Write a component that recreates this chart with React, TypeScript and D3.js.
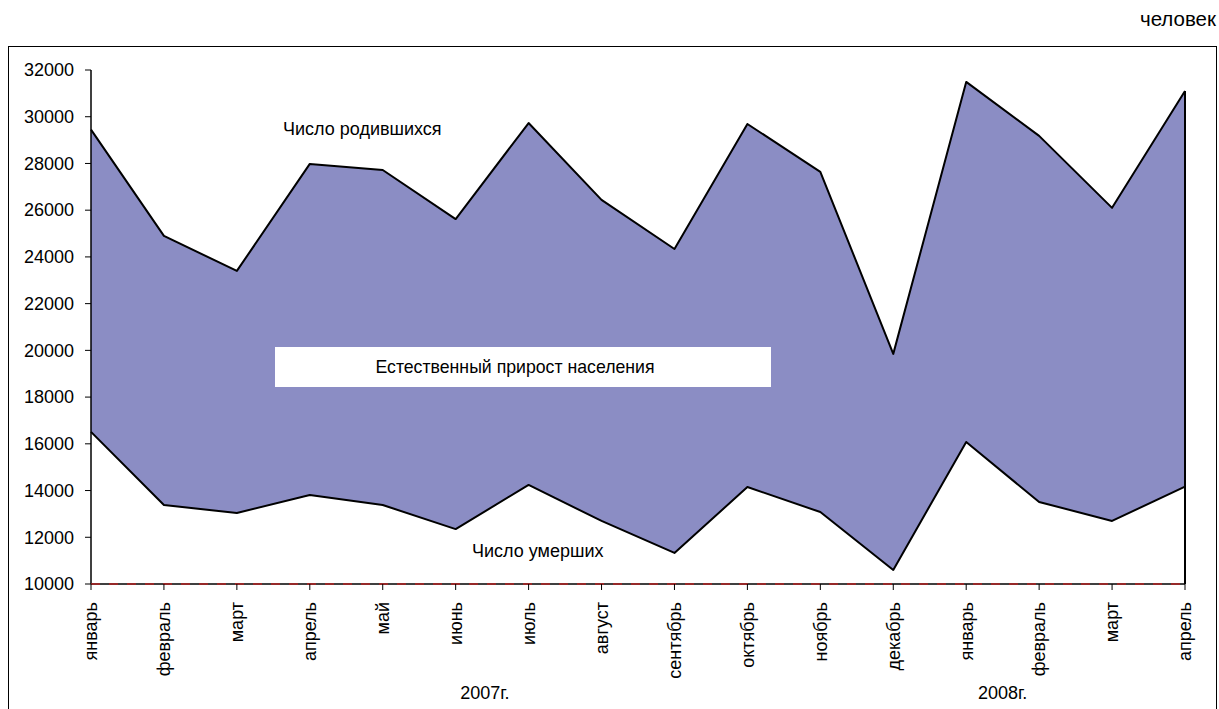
import React from "react";
import * as d3 from "d3";

const months = ["январь","февраль","март","апрель","май","июнь","июль","август","сентябрь","октябрь","ноябрь","декабрь","январь","февраль","март","апрель"];
const births = [29450,24900,23400,27980,27720,25620,29730,26440,24340,29690,27640,19850,31490,29180,26100,31100];
const deaths = [16510,13380,13040,13810,13380,12350,14240,12700,11330,14150,13080,10600,16080,13510,12700,14170];
const yTicks = [10000,12000,14000,16000,18000,20000,22000,24000,26000,28000,30000,32000];
const years = [{ label: "2007г.", at: 5.4 }, { label: "2008г.", at: 12.5 }];

const FONT = "'Liberation Sans', Arial, sans-serif";

export default function App() {
  const W = 1219, H = 709;
  const x = d3.scaleLinear().domain([0, months.length - 1]).range([91, 1185]);
  const y = d3.scaleLinear().domain([10000, 32000]).range([584, 70]);
  const idx = months.map((_, i) => i);
  const areaB = d3.area<number>().x(i => x(i)).y0(y(10000)).y1(i => y(births[i]));
  const areaD = d3.area<number>().x(i => x(i)).y0(y(10000)).y1(i => y(deaths[i]));
  const lineB = d3.line<number>().x(i => x(i)).y(i => y(births[i]));
  const lineD = d3.line<number>().x(i => x(i)).y(i => y(deaths[i]));
  const last = months.length - 1;
  return (
    <svg width={W} height={H} style={{ position: "absolute", left: 0, top: 0, display: "block" }} fontFamily={FONT}>
      <rect x={0} y={0} width={W} height={H} fill="#fff" />
      <text x={1216} y={26} fontSize={20.5} textAnchor="end" fill="#000">человек</text>
      <rect x={8.5} y={46.5} width={1208} height={680} fill="#fff" stroke="#000" strokeWidth={1} />
      <path d={areaB(idx) || ""} fill="#8B8DC4" />
      <path d={areaD(idx) || ""} fill="#fff" />
      <path d={lineB(idx) || ""} fill="none" stroke="#000" strokeWidth={2} strokeLinejoin="round" />
      <path d={lineD(idx) || ""} fill="none" stroke="#000" strokeWidth={2} strokeLinejoin="round" />
      <line x1={x(last)} x2={x(last)} y1={y(births[last])} y2={y(10000)} stroke="#000" strokeWidth={2} />
      {/* y axis */}
      <line x1={91} x2={91} y1={y(32000)} y2={y(10000)} stroke="#000" strokeWidth={1.5} />
      {yTicks.map(t => (
        <g key={t}>
          <line x1={85} x2={91} y1={y(t)} y2={y(t)} stroke="#000" strokeWidth={1} />
          <text x={74} y={y(t)} dy="0.35em" fontSize={18} textAnchor="end" fill="#000">{t}</text>
        </g>
      ))}
      {/* x axis */}
      <line x1={x(0)} x2={x(last)} y1={y(10000)} y2={y(10000)} stroke="#000" strokeWidth={1.5} />
      <line x1={x(0)} x2={x(last)} y1={y(10000)} y2={y(10000)} stroke="#B22222" strokeWidth={1.5} strokeDasharray="9,9" />
      {months.map((m, i) => (
        <g key={i}>
          <line x1={x(i)} x2={x(i)} y1={y(10000)} y2={y(10000) + 6} stroke="#000" strokeWidth={1} />
          <text transform={`translate(${x(i)},${602}) rotate(-90)`} dy="0.35em" fontSize={18} textAnchor="end" fill="#000">{m}</text>
        </g>
      ))}
      {years.map(yr => (
        <text key={yr.label} x={x(yr.at)} y={699} fontSize={18} textAnchor="middle" fill="#000">{yr.label}</text>
      ))}
      <text x={283} y={135} fontSize={18} fill="#000">Число родившихся</text>
      <text x={472} y={557} fontSize={18} fill="#000">Число умерших</text>
      <rect x={275} y={347} width={496} height={40} fill="#fff" />
      <text x={515} y={367} dy="0.35em" fontSize={17.7} textAnchor="middle" fill="#000">Естественный прирост населения</text>
    </svg>
  );
}
